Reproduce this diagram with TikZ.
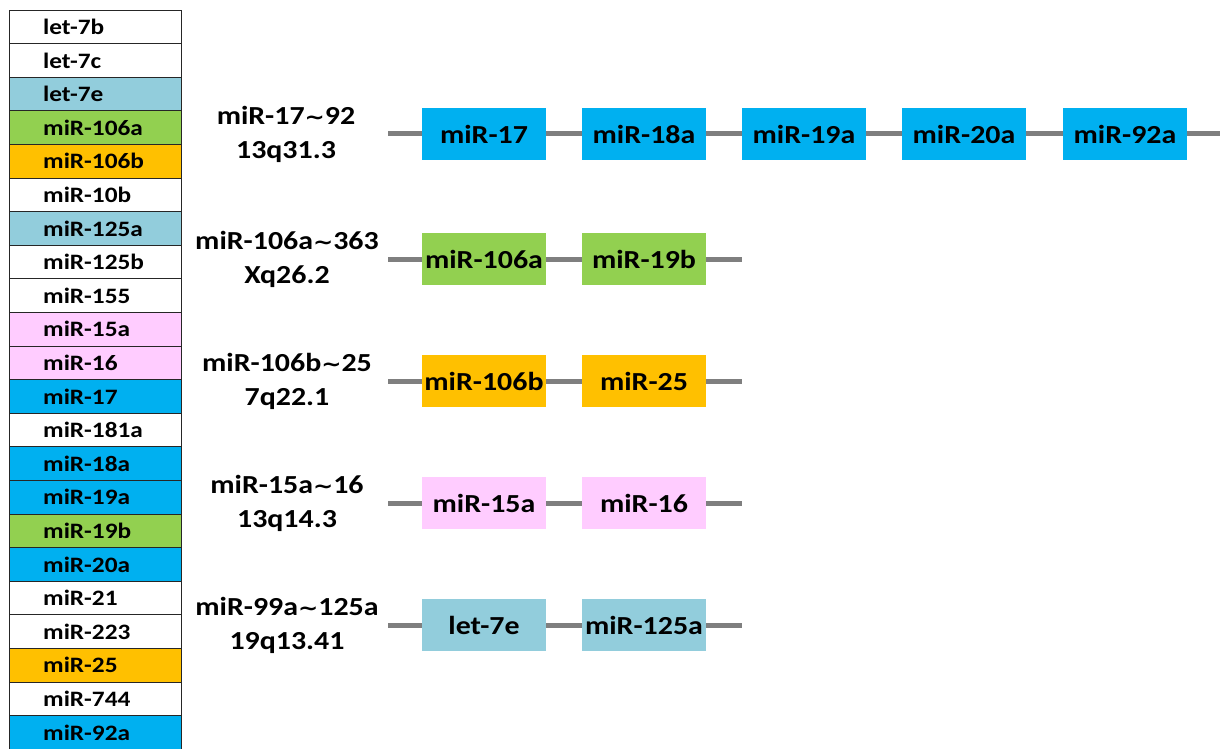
\documentclass[tikz,border=0pt]{standalone}
\usepackage{graphicx}
\usepackage{fontspec}
\setmainfont{Carlito}
\newfontfamily\dejavu{DejaVu Sans}
\definecolor{cblue}{HTML}{00B0F0}
\definecolor{clblue}{HTML}{92CDDC}
\definecolor{cgreen}{HTML}{92D050}
\definecolor{corange}{HTML}{FFC000}
\definecolor{cpink}{HTML}{FFCCFF}
\definecolor{cline}{HTML}{7F7F7F}
\newcommand{\sx}[1]{\scalebox{1.15}[1]{#1}}
\newcommand{\tl}{{\dejavu\bfseries\fontsize{21}{24}\selectfont ∼}}
\tikzset{
  cell/.style={draw=black!85, line width=0.9pt, minimum width=172pt, minimum height=33.6pt, inner sep=0pt},
  celltext/.style={anchor=west, inner sep=0pt, font=\fontsize{22}{26}\selectfont\bfseries},
  mirbox/.style={minimum width=124pt, minimum height=52pt, inner sep=0pt, font=\fontsize{26}{30}\selectfont\bfseries},
  link/.style={draw=cline, line width=5pt},
  lbl/.style={align=center, inner sep=0pt, font=\fontsize{26}{34}\selectfont\bfseries},
}
\begin{document}
\begin{tikzpicture}[x=1pt,y=-1pt]
\useasboundingbox (0,0) rectangle (1220,749);
% table
\foreach \i/\t/\c in {1/let-7b/white,2/let-7c/white,3/let-7e/clblue,4/miR-106a/cgreen,5/miR-106b/corange,6/miR-10b/white,7/miR-125a/clblue,8/miR-125b/white,9/miR-155/white,10/miR-15a/cpink,11/miR-16/cpink,12/miR-17/cblue,13/miR-181a/white,14/miR-18a/cblue,15/miR-19a/cblue,16/miR-19b/cgreen,17/miR-20a/cblue,18/miR-21/white,19/miR-223/white,20/miR-25/corange,21/miR-744/white,22/miR-92a/cblue}{
  \node[cell, fill=\c] (cell\i) at (95,{10+33.6*(\i-0.5)}) {};
  \node[celltext] (ctext\i) at (43,{10+33.6*(\i-0.5)}) {\sx{\t}};
}
% cluster 1
\node[lbl] (l1) at (286,134) {\sx{miR-17\tl92}\\\sx{13q31.3}};
\coordinate (s1) at (388,134);
\coordinate (e1) at (1220,134);
\node[mirbox, fill=cblue] (b11) at (484,134) {\sx{miR-17}};
\node[mirbox, fill=cblue] (b12) at (644,134) {\sx{miR-18a}};
\node[mirbox, fill=cblue] (b13) at (804,134) {\sx{miR-19a}};
\node[mirbox, fill=cblue] (b14) at (964,134) {\sx{miR-20a}};
\node[mirbox, fill=cblue] (b15) at (1125,134) {\sx{miR-92a}};
\draw[link] (s1) -- (b11.west) (b11.east) -- (b12.west) (b12.east) -- (b13.west) (b13.east) -- (b14.west) (b14.east) -- (b15.west) (b15.east) -- (e1);
% cluster 2
\node[lbl] (l2) at (287,259) {\sx{miR-106a\tl363}\\\sx{Xq26.2}};
\coordinate (s2) at (388,259);
\coordinate (e2) at (742,259);
\node[mirbox, fill=cgreen] (b21) at (484,259) {\sx{miR-106a}};
\node[mirbox, fill=cgreen] (b22) at (644,259) {\sx{miR-19b}};
\draw[link] (s2) -- (b21.west) (b21.east) -- (b22.west) (b22.east) -- (e2);
% cluster 3
\node[lbl] (l3) at (287,381) {\sx{miR-106b\tl25}\\\sx{7q22.1}};
\coordinate (s3) at (388,381);
\coordinate (e3) at (742,381);
\node[mirbox, fill=corange] (b31) at (484,381) {\sx{miR-106b}};
\node[mirbox, fill=corange] (b32) at (644,381) {\sx{miR-25}};
\draw[link] (s3) -- (b31.west) (b31.east) -- (b32.west) (b32.east) -- (e3);
% cluster 4
\node[lbl] (l4) at (287,503) {\sx{miR-15a\tl16}\\\sx{13q14.3}};
\coordinate (s4) at (388,503);
\coordinate (e4) at (742,503);
\node[mirbox, fill=cpink] (b41) at (484,503) {\sx{miR-15a}};
\node[mirbox, fill=cpink] (b42) at (644,503) {\sx{miR-16}};
\draw[link] (s4) -- (b41.west) (b41.east) -- (b42.west) (b42.east) -- (e4);
% cluster 5
\node[lbl] (l5) at (287,625) {\sx{miR-99a\tl125a}\\\sx{19q13.41}};
\coordinate (s5) at (388,625);
\coordinate (e5) at (742,625);
\node[mirbox, fill=clblue] (b51) at (484,625) {\sx{let-7e}};
\node[mirbox, fill=clblue] (b52) at (644,625) {\sx{miR-125a}};
\draw[link] (s5) -- (b51.west) (b51.east) -- (b52.west) (b52.east) -- (e5);
\end{tikzpicture}
\end{document}
